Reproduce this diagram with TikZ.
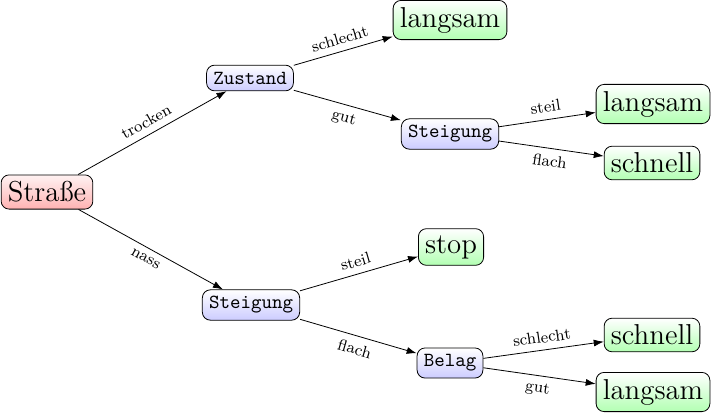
\documentclass[tikz,border=0pt]{standalone}
\usetikzlibrary{arrows.meta}
\begin{document}
\begin{tikzpicture}[x=0.5pt,y=-0.5pt,
  base/.style={draw, rounded corners=4pt, inner sep=3.33pt},
  root/.style={base, top color=red!5, bottom color=red!30, font=\Large},
  inner/.style={base, top color=white, bottom color=blue!20, font=\ttfamily},
  leaf/.style={base, top color=white, bottom color=green!30, font=\Large},
  conn/.style={draw, -{Latex[length=5pt,width=3.5pt]}},
  lab/.style={font=\footnotesize, sloped, midway}]
\useasboundingbox (0,0) rectangle (711,412);
\node[root] (r) at (47,192) {Straße};
\node[inner] (z) at (250,78) {Zustand};
\node[leaf] (l1) at (450,20) {langsam};
\node[inner] (s1) at (450,134) {Steigung};
\node[leaf] (l2) at (653,104) {langsam};
\node[leaf] (f1) at (652,163) {schnell};
\node[inner] (s2) at (251,305) {Steigung};
\node[leaf] (st) at (451,247) {stop};
\node[inner] (b) at (450,363) {Belag};
\node[leaf] (f2) at (652,335) {schnell};
\node[leaf] (l3) at (653,392) {langsam};
\draw[conn] (r) -- node[lab, above] {trocken} (z);
\draw[conn] (r) -- node[lab, below] {nass} (s2);
\draw[conn] (z) -- node[lab, above] {schlecht} (l1);
\draw[conn] (z) -- node[lab, below] {gut} (s1);
\draw[conn] (s1) -- node[lab, above] {steil} (l2);
\draw[conn] (s1) -- node[lab, below] {flach} (f1);
\draw[conn] (s2) -- node[lab, above] {steil} (st);
\draw[conn] (s2) -- node[lab, below] {flach} (b);
\draw[conn] (b) -- node[lab, above] {schlecht} (f2);
\draw[conn] (b) -- node[lab, below] {gut} (l3);
\end{tikzpicture}
\end{document}
